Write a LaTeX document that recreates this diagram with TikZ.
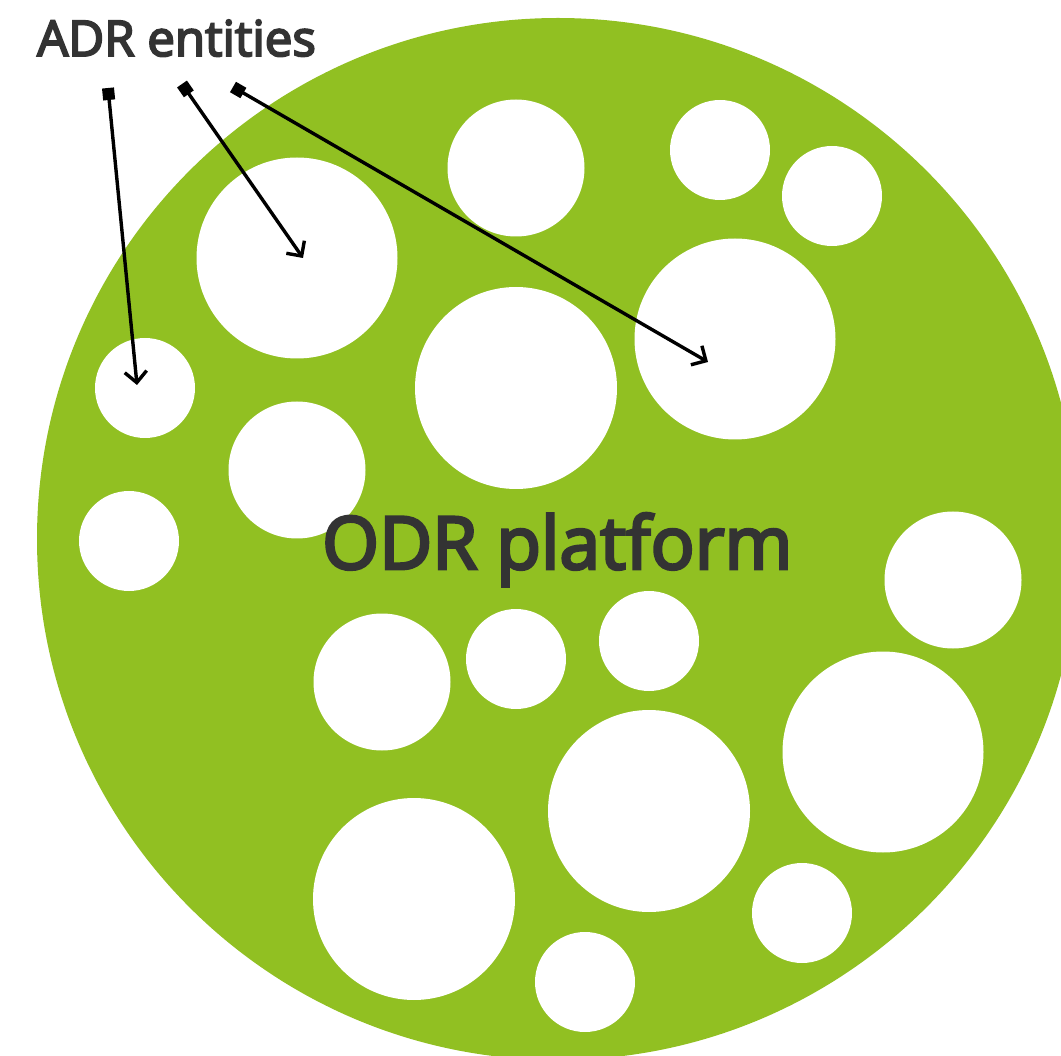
\documentclass[tikz,border=0pt]{standalone}
\usepackage{fontspec}
\newfontfamily\lblfont{Open Sans}[FakeBold=4]
\usetikzlibrary{arrows.meta}
\definecolor{odrgreen}{RGB}{145,192,34}
\definecolor{txtgray}{RGB}{51,51,51}
\tikzset{
  hole/.style={circle, fill=white, inner sep=0pt, minimum size=#1},
  ptr/.style={line width=3.4pt, black, {Square[length=12pt,width=12pt]}-{Straight Barb[length=11pt,width=22pt]}},
  lbl/.style={anchor=base west, inner sep=0pt, text=txtgray}
}
\begin{document}
\begin{tikzpicture}[x=1pt,y=-1pt]
\useasboundingbox (0,0) rectangle (1061,1056);
\begin{scope}
\clip (0,0) rectangle (1061,1056);
\fill[odrgreen] (558,539) circle (521);
\end{scope}
% holes
\node[hole=100pt] (h1) at (145,388) {};
\node[hole=100pt] (h2) at (129,541) {};
\node[hole=201pt] (h3) at (297,258) {};
\node[hole=137pt] (h4) at (297,470) {};
\node[hole=137pt] (h5) at (516,168) {};
\node[hole=202pt] (h6) at (516,388) {};
\node[hole=100pt] (h7) at (720,150) {};
\node[hole=100pt] (h8) at (832,196) {};
\node[hole=201pt] (h9) at (735,339) {};
\node[hole=137pt] (h10) at (953,580) {};
\node[hole=137pt] (h11) at (382,682) {};
\node[hole=100pt] (h12) at (516,659) {};
\node[hole=100pt] (h13) at (649,641) {};
\node[hole=201pt] (h14) at (883,752) {};
\node[hole=202pt] (h15) at (649,811) {};
\node[hole=202pt] (h16) at (414,899) {};
\node[hole=100pt] (h17) at (802,913) {};
\node[hole=100pt] (h18) at (585,982) {};
% labels
\node[lbl, font=\lblfont\fontsize{49.2}{58}\selectfont] (adr) at (37,56) {ADR entities};
\node[lbl, font=\lblfont\fontsize{73}{88}\selectfont] (odr) at (322,569) {ODR platform};
% pointers
\coordinate (t1) at (108,88);
\coordinate (t2) at (182,84);
\coordinate (t3) at (233,87);
\coordinate (e1) at (137,385);
\coordinate (e2) at (303,258);
\coordinate (e3) at (708,362);
\draw[ptr] (t1) -- (e1);
\draw[ptr] (t2) -- (e2);
\draw[ptr] (t3) -- (e3);
\end{tikzpicture}
\end{document}
